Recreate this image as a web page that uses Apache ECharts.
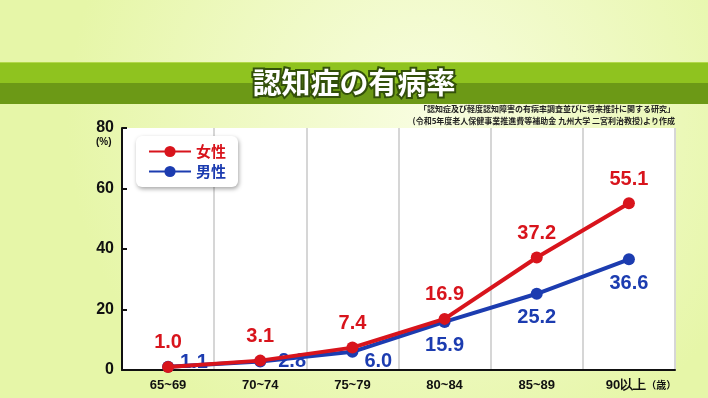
<!DOCTYPE html>
<html>
<head>
<meta charset="utf-8">
<script src="https://cdn.jsdelivr.net/npm/echarts@6/dist/echarts.min.js"></script>
<style>
  html, body { margin: 0; padding: 0; }
  #chart { width: 708px; height: 398px; }
</style>
</head>
<body>
<div id="chart"></div>
<script>
// 年齢階級
const ageGroups = ['65~69', '70~74', '75~79', '80~84', '85~89', '90以上（歳）'];
// 有病率 (%)
const female = [1.0, 3.1, 7.4, 16.9, 37.2, 55.1];
const male = [1.1, 2.8, 6.0, 15.9, 25.2, 36.6];
const yTicks = [0, 20, 40, 60, 80];

const RED = '#d8141c';
const BLUE = '#1c3cb0';
const JP = '"Noto Sans CJK JP", sans-serif';
const NUM = '"Liberation Sans", Arial, sans-serif';

// 男性ラベルの位置 (点との重なりを避ける)
const maleLabelPos = ['right', 'right', 'right', 'bottom', 'bottom', 'bottom'];
const maleLabelOffset = [[0, -4], [6, 0], [0, 10], [0, 0], [0, 0], [0, 0]];

const myChart = echarts.init(document.getElementById('chart'));

const option = {
  backgroundColor: {
    type: 'radial', x: 0.6, y: 0.3, r: 0.9,
    colorStops: [
      { offset: 0, color: '#f8fde0' },
      { offset: 1, color: '#e6f6a8' }
    ]
  },
  animation: false,
  graphic: [
    { type: 'rect', shape: { x: 0, y: 62, width: 708, height: 2 }, style: { fill: '#b2d84a' } },
    { type: 'rect', shape: { x: 0, y: 63, width: 708, height: 21 }, style: { fill: '#8fc31f' } },
    { type: 'rect', shape: { x: 0, y: 83, width: 708, height: 21 }, style: { fill: '#6c9916' } },
    {
      type: 'text', left: 'center', top: 66,
      style: {
        text: '認知症の有病率', font: 'bold 29px ' + JP,
        fill: '#ffffff', stroke: '#33500a', lineWidth: 4
      },
      z: 10
    },
    {
      type: 'text', right: 33, top: 105,
      style: {
        text: '「認知症及び軽度認知障害の有病率調査並びに将来推計に関する研究」',
        font: 'bold 8px ' + JP, fill: '#222', align: 'right'
      }
    },
    {
      type: 'text', right: 33, top: 117,
      style: {
        text: '(令和5年度老人保健事業推進費等補助金 九州大学 二宮利治教授)より作成',
        font: 'bold 8px ' + JP, fill: '#222', align: 'right'
      }
    },
    {
      type: 'text', left: 96, top: 137,
      style: { text: '(%)', font: 'bold 10px ' + NUM, fill: '#111' }
    }
  ],
  legend: {
    orient: 'vertical',
    left: 136, top: 136,
    backgroundColor: '#ffffff',
    borderRadius: 6,
    padding: [8, 12, 8, 12],
    shadowColor: 'rgba(0,0,0,0.35)',
    shadowBlur: 4,
    shadowOffsetX: 1,
    shadowOffsetY: 2,
    itemWidth: 42,
    itemHeight: 14,
    itemGap: 5,
    data: [
      { name: '女性', textStyle: { color: RED } },
      { name: '男性', textStyle: { color: BLUE } }
    ],
    textStyle: { fontFamily: JP, fontWeight: 'bold', fontSize: 15 }
  },
  grid: {
    left: 122, right: 33, top: 128, bottom: 28,
    show: true, backgroundColor: '#ffffff', borderWidth: 0
  },
  xAxis: {
    type: 'category',
    data: ageGroups,
    boundaryGap: true,
    axisLine: { lineStyle: { color: '#111', width: 2 } },
    axisTick: { show: false },
    axisLabel: {
      interval: 0,
      color: '#111', fontFamily: NUM, fontWeight: 'bold', fontSize: 13, margin: 9,
      formatter: function (v) {
        return v.indexOf('（') > 0 ? '{a|' + v.replace('（歳）', '') + '}{b|（歳）}' : v;
      },
      rich: {
        a: { fontFamily: NUM, fontWeight: 'bold', fontSize: 13, color: '#111', padding: [0, 0, 0, 24] },
        b: { fontFamily: JP, fontWeight: 'bold', fontSize: 10, color: '#111' }
      }
    },
    splitLine: { show: true, interval: 0, lineStyle: { color: '#d6d6d6', width: 2 } }
  },
  yAxis: {
    type: 'value',
    min: yTicks[0],
    max: yTicks[yTicks.length - 1],
    interval: 20,
    axisLine: { show: true, lineStyle: { color: '#111', width: 2 } },
    axisTick: { show: true, inside: true, length: 5, lineStyle: { color: '#111', width: 2 } },
    axisLabel: { color: '#111', fontFamily: NUM, fontWeight: 'bold', fontSize: 16, margin: 8 },
    splitLine: { show: false }
  },
  series: [
    {
      name: '女性',
      type: 'line',
      data: female,
      color: RED,
      symbol: 'circle',
      symbolSize: 12,
      lineStyle: { width: 4, color: RED },
      itemStyle: { color: RED },
      z: 3,
      label: {
        show: true, position: 'top', distance: 8,
        color: RED, fontFamily: NUM, fontWeight: 'bold', fontSize: 20,
        formatter: function (p) { return p.value.toFixed(1); }
      }
    },
    {
      name: '男性',
      type: 'line',
      data: male.map(function (v, i) {
        return {
          value: v,
          label: {
            position: maleLabelPos[i],
            distance: maleLabelPos[i] === 'right' ? 6 : 8,
            offset: maleLabelOffset[i]
          }
        };
      }),
      color: BLUE,
      symbol: 'circle',
      symbolSize: 12,
      lineStyle: { width: 4, color: BLUE },
      itemStyle: { color: BLUE },
      z: 2,
      label: {
        show: true,
        color: BLUE, fontFamily: NUM, fontWeight: 'bold', fontSize: 20,
        formatter: function (p) { return p.value.toFixed(1); }
      }
    }
  ]
};

myChart.setOption(option);
</script>
</body>
</html>
